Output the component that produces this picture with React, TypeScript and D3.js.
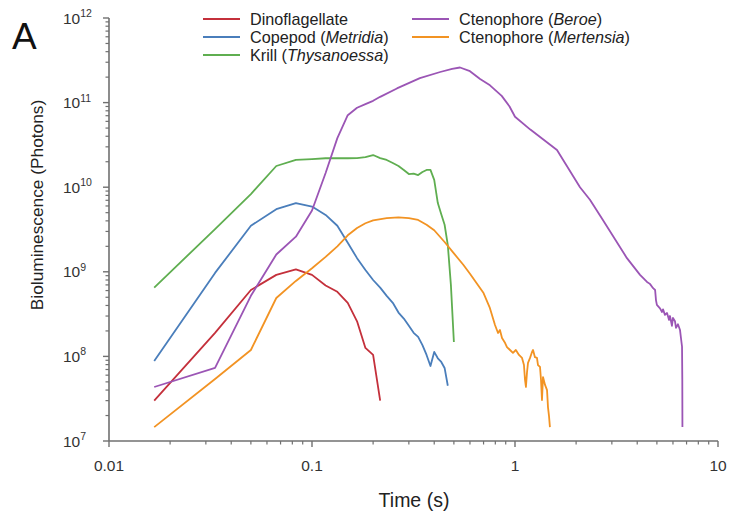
import React from "react";
import * as d3 from "d3";

type Pt = [number, number];

const seriesNames = [
  "Dinoflagellate",
  "Copepod (Metridia)",
  "Krill (Thysanoessa)",
  "Ctenophore (Beroe)",
  "Ctenophore (Mertensia)",
];

const dinoflagellate: Pt[] = [
  [0.0167, 3.0e7], [0.0333, 1.9e8], [0.05, 6.1e8], [0.0667, 9.2e8], [0.0833, 1.07e9],
  [0.1, 9.2e8], [0.1167, 6.9e8], [0.1333, 5.8e8], [0.15, 4.3e8], [0.1667, 2.6e8],
  [0.1833, 1.26e8], [0.2, 1.04e8], [0.2167, 3.0e7],
];

const copepod: Pt[] = [
  [0.0167, 8.8e7], [0.0333, 9.7e8], [0.05, 3.5e9], [0.0667, 5.5e9], [0.0833, 6.5e9],
  [0.1, 5.9e9], [0.1167, 4.7e9], [0.1333, 3.5e9], [0.15, 2.2e9], [0.1667, 1.45e9],
  [0.1833, 1.05e9], [0.2, 8.0e8], [0.2167, 6.5e8], [0.2333, 5.2e8], [0.25, 4.3e8],
  [0.2667, 3.3e8], [0.2833, 2.8e8], [0.3, 2.3e8], [0.3167, 1.9e8], [0.3333, 1.7e8],
  [0.35, 1.36e8], [0.3667, 1.04e8], [0.3833, 7.7e7], [0.4, 1.13e8], [0.4167, 9.5e7],
  [0.4333, 8.6e7], [0.45, 7.3e7], [0.4667, 4.5e7],
];

const krill: Pt[] = [
  [0.0167, 6.5e8], [0.0333, 3.2e9], [0.05, 8.3e9], [0.0667, 1.78e10], [0.0833, 2.1e10],
  [0.1, 2.15e10], [0.1167, 2.2e10], [0.1333, 2.21e10], [0.15, 2.2e10], [0.1667, 2.21e10],
  [0.1833, 2.27e10], [0.2, 2.4e10], [0.2167, 2.21e10], [0.2333, 2.1e10], [0.25, 1.93e10],
  [0.2667, 1.78e10], [0.2833, 1.6e10], [0.3, 1.43e10], [0.3167, 1.45e10], [0.3333, 1.39e10],
  [0.35, 1.51e10], [0.3667, 1.6e10], [0.3833, 1.6e10], [0.4, 1.22e10], [0.4167, 6.5e9],
  [0.4333, 4.8e9], [0.45, 3.6e9], [0.4667, 2.07e9], [0.4833, 7.0e8], [0.5, 1.48e8],
];

const beroe: Pt[] = [
  [0.0167, 4.35e7], [0.0333, 7.3e7], [0.05, 5.2e8], [0.0667, 1.6e9], [0.0833, 2.6e9],
  [0.1, 5.3e9], [0.1167, 1.47e10], [0.1333, 3.8e10], [0.15, 7.1e10], [0.1667, 8.7e10],
  [0.1833, 9.6e10], [0.2, 1.05e11], [0.2167, 1.17e11], [0.262, 1.47e11], [0.34, 1.95e11],
  [0.428, 2.3e11], [0.49, 2.5e11], [0.536, 2.6e11], [0.6, 2.35e11], [0.673, 1.9e11],
  [0.753, 1.6e11], [0.86, 1.2e11], [0.94, 9.0e10], [1.0, 6.8e10], [1.19, 4.8e10],
  [1.61, 2.75e10], [2.09, 1.0e10], [2.34, 7.1e9], [2.71, 4.1e9], [3.56, 1.45e9],
  [4.13, 9.2e8], [4.47, 7.6e8], [4.62, 7.2e8], [4.79, 6.4e8], [4.9, 6.1e8], [4.95, 4.6e8],
  [5.0, 4.06e8], [5.18, 3.7e8], [5.3, 3.35e8], [5.36, 3.6e8], [5.48, 3.1e8], [5.61, 3.26e8],
  [5.74, 2.7e8], [5.8, 3.0e8], [5.93, 2.3e8], [6.0, 2.85e8], [6.14, 2.6e8], [6.21, 2.17e8],
  [6.35, 2.4e8], [6.5, 2.05e8], [6.57, 1.65e8], [6.65, 1.3e8], [6.67, 5.3e7], [6.68, 1.46e7],
];

const mertensia: Pt[] = [
  [0.0167, 1.46e7], [0.0333, 5.4e7], [0.05, 1.19e8], [0.0667, 4.9e8], [0.0833, 7.8e8],
  [0.1, 1.1e9], [0.1167, 1.5e9], [0.1333, 2.0e9], [0.15, 2.7e9], [0.1667, 3.3e9],
  [0.1833, 3.75e9], [0.2, 4.05e9], [0.2333, 4.3e9], [0.2667, 4.4e9], [0.3, 4.3e9],
  [0.3333, 4.1e9], [0.3667, 3.6e9], [0.4, 3.1e9], [0.45, 2.25e9], [0.5, 1.65e9],
  [0.555, 1.22e9], [0.6, 9.5e8], [0.7, 5.6e8], [0.75, 3.8e8], [0.797, 2.35e8],
  [0.825, 1.89e8], [0.843, 2.05e8], [0.863, 1.65e8], [0.894, 1.44e8], [0.913, 1.29e8],
  [0.945, 1.19e8], [0.977, 1.1e8], [1.01, 1.19e8], [1.046, 1.04e8], [1.083, 9.6e7],
  [1.107, 7.9e7], [1.12, 5.3e7], [1.132, 4.35e7], [1.146, 6.5e7], [1.159, 8.4e7],
  [1.186, 9.6e7], [1.213, 1.13e8], [1.227, 1.19e8], [1.254, 9.8e7], [1.283, 9.6e7],
  [1.298, 7.9e7], [1.328, 7.5e7], [1.343, 5.3e7], [1.358, 3.05e7], [1.374, 5.7e7],
  [1.406, 4.6e7], [1.438, 4.0e7], [1.454, 2.5e7], [1.47, 2.0e7], [1.486, 1.46e7],
];

const xTickValues = [0.01, 0.1, 1, 10];
const xTickLabels = ["0.01", "0.1", "1", "10"];
const yTickExponents = [7, 8, 9, 10, 11, 12];

const colors = ["#c4303b", "#4a7ebb", "#5fae50", "#9b55b5", "#f29323"];
const allSeries = [dinoflagellate, copepod, krill, beroe, mertensia];

const font = "'Liberation Sans', Arial, sans-serif";

export default function App() {
  const x = d3.scaleLog().domain([0.01, 10]).range([109, 718]);
  const y = d3.scaleLog().domain([1e7, 1e12]).range([441, 18]);
  const line = d3
    .line<Pt>()
    .x((d) => x(d[0]))
    .y((d) => y(d[1]));

  const xMinor: number[] = [];
  for (let e = -2; e < 1; e++) for (let k = 2; k <= 9; k++) xMinor.push(k * Math.pow(10, e));
  const yMinor: number[] = [];
  for (let e = 7; e < 12; e++) for (let k = 2; k <= 9; k++) yMinor.push(k * Math.pow(10, e));

  const axisColor = "#707070";
  const textColor = "#333";

  const legendItems = [
    { col: 0, row: 0, idx: 0, parts: [["Dinoflagellate", false]] },
    { col: 0, row: 1, idx: 1, parts: [["Copepod (", false], ["Metridia", true], [")", false]] },
    { col: 0, row: 2, idx: 2, parts: [["Krill (", false], ["Thysanoessa", true], [")", false]] },
    { col: 1, row: 0, idx: 3, parts: [["Ctenophore (", false], ["Beroe", true], [")", false]] },
    { col: 1, row: 1, idx: 4, parts: [["Ctenophore (", false], ["Mertensia", true], [")", false]] },
  ] as { col: number; row: number; idx: number; parts: [string, boolean][] }[];
  const legendColX = [203, 412];
  const legendRowY = [19, 37, 55];

  return (
    <svg
      width={729}
      height={516}
      style={{ position: "absolute", left: 0, top: 0, background: "#fff" }}
      fontFamily={font}
    >
      <rect x={0} y={0} width={729} height={516} fill="#fff" />
      <text x={12} y={49} fontSize={37} fill="#111">A</text>

      {allSeries.map((s, i) => (
        <path
          key={i}
          d={line(s) || ""}
          fill="none"
          stroke={colors[i]}
          strokeWidth={1.8}
          strokeLinejoin="round"
        />
      ))}

      <line x1={109} x2={109} y1={y(1e12)} y2={y(1e7)} stroke={axisColor} strokeWidth={1.6} />
      {yMinor.map((v, i) => (
        <line key={i} x1={105.5} x2={109} y1={y(v)} y2={y(v)} stroke={axisColor} strokeWidth={1.2} />
      ))}
      {yTickExponents.map((e) => (
        <g key={e}>
          <line x1={103} x2={109} y1={y(Math.pow(10, e))} y2={y(Math.pow(10, e))} stroke={axisColor} strokeWidth={1.4} />
          <text x={63} y={y(Math.pow(10, e)) + 5.5} fontSize={15.5} fill={textColor}>
            10
            <tspan dy={-6.5} fontSize={10.5}>{e}</tspan>
          </text>
        </g>
      ))}

      <line x1={x(0.01)} x2={x(10)} y1={441} y2={441} stroke={axisColor} strokeWidth={1.6} />
      {xMinor.map((v, i) => (
        <line key={i} x1={x(v)} x2={x(v)} y1={441} y2={444.5} stroke={axisColor} strokeWidth={1.2} />
      ))}
      {xTickValues.map((v, i) => (
        <g key={i}>
          <line x1={x(v)} x2={x(v)} y1={441} y2={447} stroke={axisColor} strokeWidth={1.4} />
          <text x={x(v)} y={471} fontSize={15.5} fill={textColor} textAnchor="middle">
            {xTickLabels[i]}
          </text>
        </g>
      ))}

      <text x={414} y={507} fontSize={19.5} fill="#222" textAnchor="middle">Time (s)</text>
      <text
        transform="translate(43,205) rotate(-90)"
        fontSize={17.3}
        fill="#222"
        textAnchor="middle"
      >
        Bioluminescence (Photons)
      </text>

      {legendItems.map((it) => {
        const lx = legendColX[it.col];
        const ly = legendRowY[it.row];
        return (
          <g key={it.idx}>
            <line x1={lx} x2={lx + 37} y1={ly} y2={ly} stroke={colors[it.idx]} strokeWidth={2} />
            <text x={lx + 47} y={ly + 5.5} fontSize={16.2} fill="#222">
              {it.parts.map((p, j) => (
                <tspan key={j} fontStyle={p[1] ? "italic" : "normal"}>{p[0]}</tspan>
              ))}
            </text>
          </g>
        );
      })}
      <title>{seriesNames.join(", ")}</title>
    </svg>
  );
}
